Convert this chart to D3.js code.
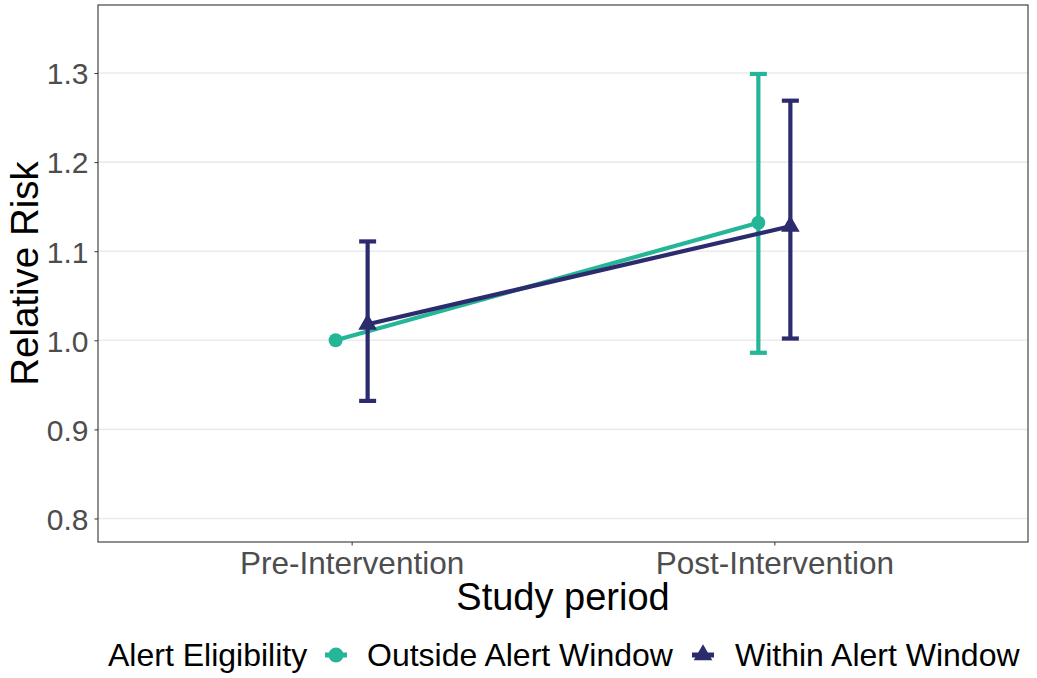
<!DOCTYPE html>
<html>
<head>
<meta charset="utf-8">
<script src="https://cdn.jsdelivr.net/npm/d3@7"></script>
<style>
  body { margin: 0; background: #fff; }
  svg { display: block; font-family: "Liberation Sans", Arial, sans-serif; }
</style>
</head>
<body>
<div id="chart"></div>
<script>
// Dados
const periods = ['Pre-Intervention', 'Post-Intervention'];
const groups = ['Outside Alert Window', 'Within Alert Window'];
const outsideRR = [1.0, 1.132];
const outsideLow = [null, 0.986];
const outsideHigh = [null, 1.299];
const withinRR = [1.018, 1.128];
const withinLow = [0.932, 1.002];
const withinHigh = [1.111, 1.269];
const yTicks = [0.8, 0.9, 1.0, 1.1, 1.2, 1.3];

const W = 1037, H = 678;
const panel = { left: 98, right: 1028, top: 5, bottom: 542 };
const colors = { 'Outside Alert Window': '#25b597', 'Within Alert Window': '#2c2b6e' };
const FONT = '"Liberation Sans", Arial, sans-serif';

const series = [
    { name: groups[0], rr: outsideRR, lo: outsideLow, hi: outsideHigh, shape: 'circle', dodge: -1 },
    { name: groups[1], rr: withinRR, lo: withinLow, hi: withinHigh, shape: 'triangle', dodge: 1 }
];

const svg = d3.select('#chart').append('svg').attr('width', W).attr('height', H);

// Escalas
const x = d3.scalePoint().domain(periods).range([panel.left, panel.right]).padding(0.6);
const y = d3.scaleLinear().domain([0.7736, 1.3764]).range([panel.bottom, panel.top]);
const dodgePx = 16;

// Grid
svg.append('g').selectAll('line').data(yTicks).enter().append('line')
    .attr('x1', panel.left).attr('x2', panel.right)
    .attr('y1', d => y(d)).attr('y2', d => y(d))
    .attr('stroke', '#ebebeb').attr('stroke-width', 1.6);

// Eixos
const yAxis = svg.append('g').attr('transform', `translate(${panel.left},0)`)
    .call(d3.axisLeft(y).tickValues(yTicks).tickFormat(d3.format('.1f')).tickSize(3.5).tickPadding(6));
const xAxis = svg.append('g').attr('transform', `translate(0,${panel.bottom})`)
    .call(d3.axisBottom(x).tickSize(3.5).tickPadding(6));
[xAxis, yAxis].forEach(a => {
    a.attr('font-family', FONT).attr('font-size', null);
    a.select('.domain').remove();
    a.selectAll('.tick line').attr('stroke', '#333').attr('stroke-width', 1);
    a.selectAll('.tick text').attr('fill', '#4d4d4d');
});
xAxis.selectAll('.tick text').style('font-size', '31.5px');
yAxis.selectAll('.tick text').style('font-size', '30px').attr('dy', '0.36em');

// Títulos
svg.append('text').attr('x', (panel.left + panel.right) / 2).attr('y', 610)
    .attr('text-anchor', 'middle').style('font-size', '38px').attr('fill', '#000').text('Study period');
svg.append('text').attr('transform', `translate(37.5,${(panel.top + panel.bottom) / 2}) rotate(-90)`)
    .attr('text-anchor', 'middle').style('font-size', '38.5px').attr('fill', '#000').text('Relative Risk');

// Linhas, barras de erro e pontos
const triangle = d3.symbol().type(d3.symbolTriangle).size(150);
series.forEach(s => {
    const col = colors[s.name];
    const px = i => x(periods[i]) + s.dodge * dodgePx;
    const g = svg.append('g');
    g.append('path')
        .datum(s.rr)
        .attr('d', d3.line().x((d, i) => px(i)).y(d => y(d)))
        .attr('fill', 'none').attr('stroke', col).attr('stroke-width', 4.2);
    s.rr.forEach((v, i) => {
        if (s.lo[i] == null) return;
        const cx = px(i);
        g.append('line').attr('x1', cx).attr('x2', cx).attr('y1', y(s.lo[i])).attr('y2', y(s.hi[i]))
            .attr('stroke', col).attr('stroke-width', 4.2);
        [s.lo[i], s.hi[i]].forEach(c => {
            g.append('line').attr('x1', cx - 8.5).attr('x2', cx + 8.5).attr('y1', y(c)).attr('y2', y(c))
                .attr('stroke', col).attr('stroke-width', 4.2);
        });
    });
    s.rr.forEach((v, i) => {
        if (s.shape === 'circle') {
            g.append('circle').attr('cx', px(i)).attr('cy', y(v)).attr('r', 7).attr('fill', col);
        } else {
            g.append('path').attr('d', triangle).attr('transform', `translate(${px(i)},${y(v)})`).attr('fill', col);
        }
    });
});

// Moldura do painel
svg.append('rect').attr('x', panel.left).attr('y', panel.top)
    .attr('width', panel.right - panel.left).attr('height', panel.bottom - panel.top)
    .attr('fill', 'none').attr('stroke', '#333').attr('stroke-width', 1.1);

// Legenda
const legY = 655;
const leg = svg.append('g').style('font-size', '32px');
leg.append('text').attr('x', 108).attr('y', legY).attr('dy', '0.35em').attr('fill', '#000').text('Alert Eligibility');
const keyX = [336, 703];
const labX = [367, 735];
series.forEach((s, i) => {
    const col = colors[s.name];
    leg.append('line').attr('x1', keyX[i] - 11).attr('x2', keyX[i] + 11).attr('y1', legY).attr('y2', legY)
        .attr('stroke', col).attr('stroke-width', 5);
    if (s.shape === 'circle') {
        leg.append('circle').attr('cx', keyX[i]).attr('cy', legY).attr('r', 7.5).attr('fill', col);
    } else {
        leg.append('path').attr('d', triangle).attr('transform', `translate(${keyX[i]},${legY})`).attr('fill', col);
    }
    leg.append('text').attr('x', labX[i]).attr('y', legY).attr('dy', '0.35em').attr('fill', '#000').text(s.name);
});
</script>
</body>
</html>
